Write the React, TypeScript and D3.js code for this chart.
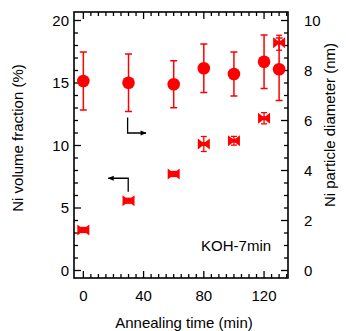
import React from "react";
import * as d3 from "d3";

// annealing time (min)
const times = [0, 30, 60, 80, 100, 120, 130];
// Ni particle diameter (nm), right axis, circles
const diameter = [7.58, 7.51, 7.45, 8.09, 7.86, 8.35, 8.05];
const diameterErr = [1.16, 1.15, 0.94, 0.97, 0.88, 1.07, 1.25];
// Ni volume fraction (%), left axis, bowties
const volFraction = [3.24, 5.58, 7.72, 10.12, 10.38, 12.18, 18.22];
const volErr = [0.2, 0.2, 0.2, 0.6, 0.35, 0.45, 0.6];

const xTicks = [0, 40, 80, 120];
const leftTicks = [0, 5, 10, 15, 20];
const rightTicks = [0, 2, 4, 6, 8, 10];

const W = 346;
const H = 331;
const red = "#ff0000";
const font = "Liberation Sans, Arial, sans-serif";

export default function App() {
  const x = d3.scaleLinear().domain([-6.2, 135.9]).range([74, 288]);
  const yL = d3.scaleLinear().domain([-0.6, 20.68]).range([278, 12]);
  const yR = d3.scaleLinear().domain([-0.3, 10.34]).range([278, 12]);

  const [x0, x1] = x.range();
  const [yb, yt] = yL.range();

  const xMinor = d3.range(0, 136, 5);
  const lMinor = d3.range(0, 21, 1);
  const rMinor = d3.range(0, 10.3, 0.5);

  // sideways hourglass marker
  const bow = (cx: number, cy: number) => {
    const w = 6, h = 5.5, n = 1.5, nh = 2;
    return `M${cx - w},${cy - h}L${cx - n},${cy - nh}L${cx + n},${cy - nh}L${cx + w},${cy - h}L${cx + w},${cy + h}L${cx + n},${cy + nh}L${cx - n},${cy + nh}L${cx - w},${cy + h}Z`;
  };

  // arrows pointing to their axes (placed in data units)
  const arrowR = { x: 29.4, yTop: 12.25, yBot: 11.0, xEnd: 41.6 };
  const arrowL = { x: 29.8, yTop: 7.38, yBot: 6.3, xEnd: 16.6 };

  return (
    <div style={{ position: "absolute", left: 0, top: 0 }}>
      <svg width={W} height={H} style={{ display: "block", fontFamily: font }}>
        <defs>
          <marker id="ah" viewBox="0 0 10 10" refX="9" refY="5" markerWidth="7" markerHeight="6" orient="auto" markerUnits="userSpaceOnUse">
            <path d="M0,1 L10,5 L0,9 Z" fill="#000" />
          </marker>
        </defs>
        <rect width={W} height={H} fill="#fff" />

        {/* x ticks bottom and top */}
        {xMinor.map((t) => {
          const len = xTicks.includes(t) ? 7 : 4;
          return (
            <g key={"xt" + t} stroke="#000" strokeWidth={1.3}>
              <line x1={x(t)} x2={x(t)} y1={yb} y2={yb - len} />
              <line x1={x(t)} x2={x(t)} y1={yt} y2={yt + len} />
            </g>
          );
        })}
        {lMinor.map((t) => (
          <line key={"lt" + t} x1={x0} x2={x0 + (t % 5 === 0 ? 7 : 4)} y1={yL(t)} y2={yL(t)} stroke="#000" strokeWidth={1.3} />
        ))}
        {rMinor.map((t) => (
          <line key={"rt" + t} x1={x1} x2={x1 - (t % 2 === 0 ? 7 : 4)} y1={yR(t)} y2={yR(t)} stroke="#000" strokeWidth={1.3} />
        ))}
        <rect x={x0} y={yt} width={x1 - x0} height={yb - yt} fill="none" stroke="#000" strokeWidth={1.6} />

        {/* tick labels */}
        {xTicks.map((t) => (
          <text key={"xl" + t} x={x(t)} y={yb + 23} textAnchor="middle" fontSize={15}>{t}</text>
        ))}
        {leftTicks.map((t) => (
          <text key={"ll" + t} x={x0 - 5} y={yL(t)} dy="0.36em" textAnchor="end" fontSize={15}>{t}</text>
        ))}
        {rightTicks.map((t) => (
          <text key={"rl" + t} x={x1 + 16} y={yR(t)} dy="0.36em" textAnchor="start" fontSize={15}>{t}</text>
        ))}

        {/* axis titles */}
        <text x={184} y={328} textAnchor="middle" fontSize={15}>Annealing time (min)</text>
        <text transform="translate(23,138) rotate(-90)" textAnchor="middle" fontSize={15}>Ni volume fraction (%)</text>
        <text transform="translate(335,125) rotate(-90)" textAnchor="middle" fontSize={15}>Ni particle diameter (nm)</text>

        {/* volume fraction: bowties with small error bars */}
        {times.map((t, i) => {
          const cx = x(t), cy = yL(volFraction[i]);
          const top = yL(volFraction[i] + volErr[i]), bot = yL(volFraction[i] - volErr[i]);
          return (
            <g key={"v" + t}>
              <g stroke={red} strokeWidth={1.3}>
                <line x1={cx} x2={cx} y1={top} y2={bot} />
                <line x1={cx - 3} x2={cx + 3} y1={top} y2={top} />
                <line x1={cx - 3} x2={cx + 3} y1={bot} y2={bot} />
              </g>
              <path d={bow(cx, cy)} fill={red} />
            </g>
          );
        })}

        {/* particle diameter: circles with error bars */}
        {times.map((t, i) => {
          const cx = x(t), cy = yR(diameter[i]);
          const top = yR(diameter[i] + diameterErr[i]), bot = yR(diameter[i] - diameterErr[i]);
          return (
            <g key={"d" + t}>
              <g stroke={red} strokeWidth={1.5}>
                <line x1={cx} x2={cx} y1={top} y2={bot} />
                <line x1={cx - 3.5} x2={cx + 3.5} y1={top} y2={top} />
                <line x1={cx - 3.5} x2={cx + 3.5} y1={bot} y2={bot} />
              </g>
              <circle cx={cx} cy={cy} r={6.3} fill={red} />
            </g>
          );
        })}

        {/* axis arrows */}
        <path
          d={`M${x(arrowR.x)},${yL(arrowR.yTop)}V${yL(arrowR.yBot)}H${x(arrowR.xEnd)}`}
          fill="none" stroke="#000" strokeWidth={1.3} markerEnd="url(#ah)"
        />
        <path
          d={`M${x(arrowL.x)},${yL(arrowL.yBot)}V${yL(arrowL.yTop)}H${x(arrowL.xEnd)}`}
          fill="none" stroke="#000" strokeWidth={1.3} markerEnd="url(#ah)"
        />

        <text x={x(130) - 8} y={yL(1.55)} textAnchor="end" fontSize={15}>KOH-7min</text>
      </svg>
    </div>
  );
}
